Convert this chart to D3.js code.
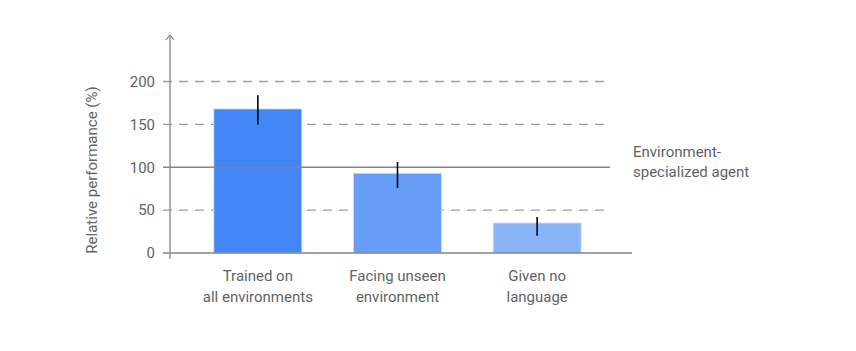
<!DOCTYPE html>
<html>
<head>
<meta charset="utf-8">
<script src="https://cdn.jsdelivr.net/npm/d3@7"></script>
<style>
  body { margin: 0; background: #fff; }
  text { font-family: Roboto, "Noto Sans", sans-serif; fill: #5f6368; }
</style>
</head>
<body>
<div id="chart"></div>
<script>
// du lieu
const categories = ["Trained on|all environments", "Facing unseen|environment", "Given no|language"];
const values = [168, 93, 35];
const errLow = [150, 76, 20];
const errHigh = [184, 106, 42];
const yTicks = [0, 50, 100, 150, 200];
const barColors = ["#4285f4", "#669df6", "#8ab4f8"];
const refValue = 100;
const refLabel = ["Environment-", "specialized agent"];

const W = 856, H = 351;
const svg = d3.select("#chart").append("svg")
    .attr("width", W).attr("height", H);

const x0 = 170, xEnd = 610;
const y = d3.scaleLinear().domain([0, 200]).range([253, 81.5]);
const x = d3.scaleBand()
    .domain(categories)
    .range([188, 607])
    .paddingInner(0.37)
    .paddingOuter(0.185);

// luoi ngang (net dut)
svg.selectAll(".grid")
    .data(yTicks.filter(d => d !== 0 && d !== refValue))
    .enter().append("line")
    .attr("x1", 163).attr("x2", xEnd)
    .attr("y1", d => y(d)).attr("y2", d => y(d))
    .attr("stroke", "#9aa0a6")
    .attr("stroke-width", 1.3)
    .attr("stroke-dasharray", "9,7");

// nhan truc Y
svg.selectAll(".ytick")
    .data(yTicks)
    .enter().append("text")
    .attr("x", 155)
    .attr("y", d => y(d))
    .attr("dy", "0.35em")
    .attr("text-anchor", "end")
    .style("font-size", "15px")
    .text(d => d);

// cac cot
svg.selectAll(".bar")
    .data(values)
    .enter().append("rect")
    .attr("x", (d, i) => x(categories[i]))
    .attr("y", d => y(d))
    .attr("width", x.bandwidth())
    .attr("height", d => y(0) - y(d))
    .attr("fill", (d, i) => barColors[i])
    .attr("stroke", "#d2e3fc")
    .attr("stroke-width", 0.8);

// duong tham chieu 100%
svg.append("line")
    .attr("x1", 163).attr("x2", xEnd)
    .attr("y1", y(refValue)).attr("y2", y(refValue))
    .attr("stroke", "#80868b")
    .attr("stroke-width", 1.5);

// error bars
svg.selectAll(".err")
    .data(values)
    .enter().append("line")
    .attr("x1", (d, i) => x(categories[i]) + x.bandwidth() / 2)
    .attr("x2", (d, i) => x(categories[i]) + x.bandwidth() / 2)
    .attr("y1", (d, i) => y(errLow[i]))
    .attr("y2", (d, i) => y(errHigh[i]))
    .attr("stroke", "#000")
    .attr("stroke-width", 1.6);

// truc Y + mui ten
svg.append("line")
    .attr("x1", x0).attr("x2", x0)
    .attr("y1", 36).attr("y2", 259)
    .attr("stroke", "#80868b").attr("stroke-width", 1.3);
svg.append("path")
    .attr("d", `M${x0 - 4},${40} L${x0},${35} L${x0 + 4},${40}`)
    .attr("fill", "none")
    .attr("stroke", "#80868b").attr("stroke-width", 1.2);

// truc X
svg.append("line")
    .attr("x1", 163).attr("x2", 632)
    .attr("y1", y(0)).attr("y2", y(0))
    .attr("stroke", "#80868b").attr("stroke-width", 1.3);

// nhan truc X
const xl = svg.selectAll(".xlab")
    .data(categories)
    .enter().append("text")
    .attr("text-anchor", "middle")
    .style("font-size", "15px");
xl.each(function(d) {
    const t = d3.select(this);
    const cx = x(d) + x.bandwidth() / 2;
    d.split("|").forEach((line, k) => {
        t.append("tspan").attr("x", cx).attr("y", 281 + k * 21).text(line);
    });
});

// nhan duong tham chieu
svg.append("text")
    .style("font-size", "15px")
    .selectAll("tspan")
    .data(refLabel)
    .enter().append("tspan")
    .attr("x", 633)
    .attr("y", (d, i) => 157 + i * 20)
    .text(d => d);

// tieu de truc Y
svg.append("text")
    .attr("transform", `translate(97,${170}) rotate(-90)`)
    .attr("text-anchor", "middle")
    .style("font-size", "15px")
    .text("Relative performance (%)");
</script>
</body>
</html>
